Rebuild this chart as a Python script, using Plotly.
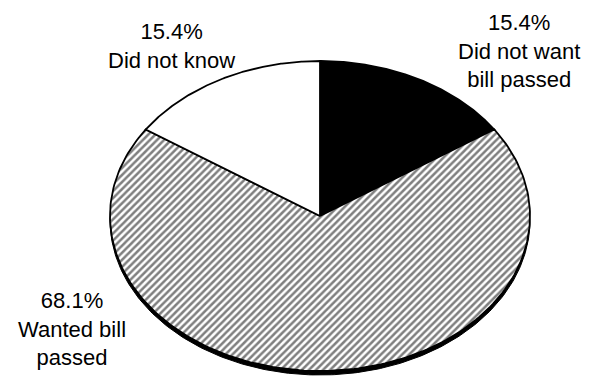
import numpy as np
import plotly.graph_objects as go

# ---- data (clockwise from 12 o'clock) ----
categories = ["Did not want bill passed", "Wanted bill passed", "Did not know"]
percent_values = [15.4, 68.1, 15.4]
label_texts = ["15.4%<br>Did not want<br>bill passed",
               "68.1%<br>Wanted bill<br>passed",
               "15.4%<br>Did not know"]

# ---- styling / geometry ----
W, H = 589, 381
cx, cy = 320, 216          # ellipse centre (axis units = pixels)
rx, ry = 210, 155          # ellipse radii
shadow_dy = 4
fills = [
    dict(fillcolor="black"),
    dict(fillcolor="white", fillpattern=dict(shape="/", fgcolor="black", bgcolor="white",
                                             size=5, solidity=0.5)),
    dict(fillcolor="white"),
]
label_pos = [(519, 51), (72, 329), (171, 46)]
FONT = "Liberation Sans, Arial, sans-serif"

fig = go.Figure()

# shadow ellipse (gives the thick dark bottom rim)
t = np.linspace(0, 2 * np.pi, 400)
fig.add_trace(go.Scatter(x=cx + rx * np.sin(t), y=cy + shadow_dy - ry * np.cos(t),
                         mode="lines", fill="toself", fillcolor="black",
                         line=dict(color="black", width=1), hoverinfo="skip",
                         showlegend=False))

total = sum(percent_values)
start = 0.0
for name, v, style in zip(categories, percent_values, fills):
    a0 = start
    a1 = start + v / total * 2 * np.pi
    start = a1
    ang = np.linspace(a0, a1, 200)
    xs = np.concatenate([[cx], cx + rx * np.sin(ang), [cx]])
    ys = np.concatenate([[cy], cy - ry * np.cos(ang), [cy]])
    fig.add_trace(go.Scatter(x=xs, y=ys, mode="lines", fill="toself", name=name,
                             line=dict(color="black", width=1.8), showlegend=False,
                             hoverinfo="name", **style))

for txt, (lx, ly) in zip(label_texts, label_pos):
    fig.add_annotation(x=lx, y=ly, xref="x", yref="y", text=txt, showarrow=False,
                       align="center", font=dict(family=FONT, size=22, color="black"))

fig.update_xaxes(range=[0, W], visible=False, fixedrange=True)
fig.update_yaxes(range=[H, 0], visible=False, fixedrange=True)
fig.update_layout(width=W, height=H, margin=dict(l=0, r=0, t=0, b=0),
                  paper_bgcolor="white", plot_bgcolor="white", showlegend=False)

fig.write_html("out.html", config={"displayModeBar": False},
               post_script="document.body.style.margin='0';document.body.style.overflow='hidden';")
